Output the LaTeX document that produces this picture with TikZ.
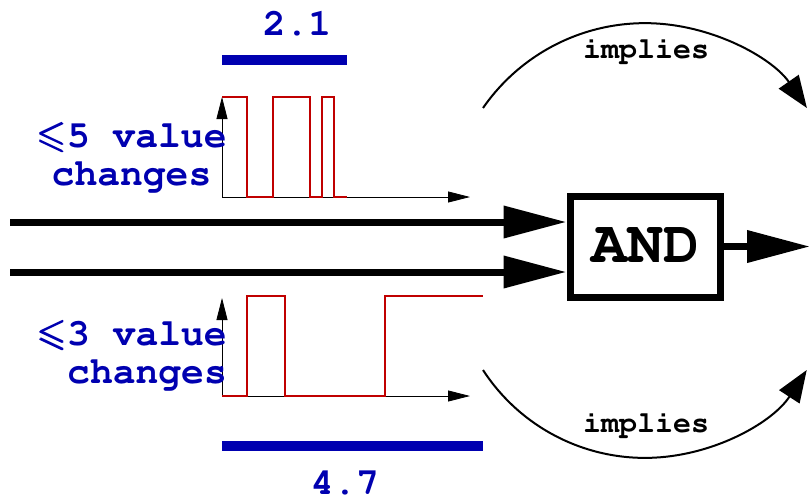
\documentclass[tikz,border=0pt]{standalone}
\usepackage[T1]{fontenc}
\usepackage{amssymb}
\usepackage{bm}
\usetikzlibrary{arrows.meta,positioning}
\definecolor{sigred}{RGB}{192,0,0}
\definecolor{labblue}{RGB}{0,0,176}
\newcommand\courbold{\fontencoding{T1}\fontfamily{pcr}\fontseries{b}\selectfont}

\begin{document}
\begin{tikzpicture}[
    x=1pt, y=-1pt,
    lab/.style={text=labblue, inner sep=0pt, font=\courbold\fontsize{38}{38}\selectfont},
    bar/.style={labblue, line width=10pt},
    signal/.style={sigred, line width=2pt},
    axis/.style={black, line width=0.8pt, -{Triangle[length=22pt,width=11pt]}},
    wire/.style={line width=7pt, -{Triangle[length=63pt,width=31pt]}},
    arc/.style={line width=2pt, -{Triangle[length=32pt,width=24pt]}},
    gate/.style={draw, line width=7pt, minimum width=150pt, minimum height=101pt, inner sep=0pt}
  ]
    \useasboundingbox (0,0) rectangle (810,501);

    % upper signal
    \coordinate (o1) at (222,197);
    \draw[axis] (o1) -- (222,97);
    \draw[axis] (o1) -- (470,197);
    \draw[signal] (222,97) -| (247,197) -| (273,97) -| (310,197) -| (322,97) -| (334,197) -- (347,197);
    \draw[bar] (222,60) -- (347,60);
    \node[lab, anchor=base] (t21) at (297,35) {2.1};
    \node[lab, align=center, anchor=base] (lab5) at (131.5,185) {$\bm{\leqslant}$5 value\\changes};

    % lower signal
    \coordinate (o2) at (222,396);
    \draw[axis] (o2) -- (222,298);
    \draw[axis] (o2) -- (470,396);
    \draw[signal] (222,396) -| (247,296) -| (285,396) -| (385,296) -- (483,296);
    \draw[bar] (222,446) -- (483,446);
    \node[lab, anchor=base] (t47) at (345,494) {4.7};
    \node[lab, align=right, anchor=base east] (lab3) at (227,383) {$\bm{\leqslant}$3 value\\changes};

    % gate
    \node[gate, font=\courbold\fontsize{60}{60}\selectfont] (and) at (645,246.5) {AND};
    \coordinate (in1) at (10,222);
    \coordinate (in2) at (10,272);
    \coordinate (out) at (810,246.5);
    \draw[wire] (in1) -- (in1 -| and.west);
    \draw[wire] (in2) -- (in2 -| and.west);
    \draw[wire] (and.east) -- (out);

    % implications
    \draw[arc] (483,108) arc[start angle=-145.3, end angle=-34.7, radius=197];
    \draw[arc] (483,370) arc[start angle=147, end angle=33, radius=193];
    \node[anchor=base, font=\courbold\fontsize{30}{30}\selectfont] (imp1) at (646,58) {implies};
    \node[anchor=base, font=\courbold\fontsize{30}{30}\selectfont] (imp2) at (646,432) {implies};
  \end{tikzpicture}
\end{document}
